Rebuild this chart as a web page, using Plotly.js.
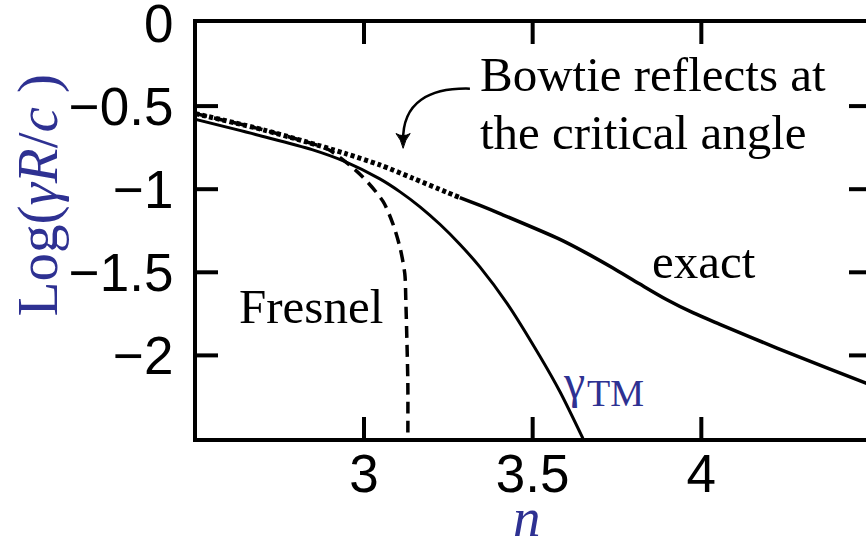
<!DOCTYPE html>
<html>
<head>
<meta charset="utf-8">
<script src="https://cdn.plot.ly/plotly-3.0.1.min.js"></script>
<style>
  html, body { margin: 0; padding: 0; background: #fff; overflow: hidden; }
  #chart { width: 872px; height: 538px; }
</style>
</head>
<body>
<div id="chart"></div>
<script>
/* Log(γR/c) vs refractive index n — exact, γ_TM and Fresnel estimates */

const BLUE = '#2e3192';

// exact result (dotted left part, near-solid past the critical angle)
const exactX = [2.50, 2.698, 2.825, 2.944, 3.047, 3.145, 3.246, 3.284, 3.344, 3.403, 3.581, 3.661, 3.738, 3.818, 3.898, 3.975, 4.055, 4.224, 4.372, 4.50];
const exactY = [-0.545, -0.641, -0.713, -0.785, -0.854, -0.934, -1.019, -1.050, -1.098, -1.147, -1.302, -1.386, -1.474, -1.571, -1.665, -1.743, -1.813, -1.956, -2.075, -2.176];
const exactSplit = 7; // index where the dots merge into a line

// γ_TM estimate
const tmX = [2.50, 2.698, 2.846, 2.944, 3.047, 3.107, 3.166, 3.225, 3.284, 3.344, 3.424, 3.521, 3.581, 3.649];
const tmY = [-0.58, -0.681, -0.762, -0.834, -0.938, -1.016, -1.106, -1.211, -1.331, -1.469, -1.687, -2.004, -2.219, -2.50];

// Fresnel estimate
const fresX = [2.50, 2.698, 2.825, 2.893, 2.988, 3.056, 3.086, 3.107, 3.121, 3.124, 3.127, 3.130, 3.130];
const fresY = [-0.545, -0.641, -0.713, -0.760, -0.910, -1.072, -1.210, -1.353, -1.509, -1.671, -1.892, -2.168, -2.50];

const xTicks = [3, 3.5, 4];
const xTickText = ['3', '3.5', '4'];
const yTicks = [0, -0.5, -1, -1.5, -2];
const yTickText = ['0', '\u22120.5', '\u22121', '\u22121.5', '\u22122'];

const xRange = [2.505, 4.5];
const yRange = [-2.497, 0];

const SERIF = 'Liberation Serif, DejaVu Serif, serif';
const SANS = 'Liberation Sans, Arial, sans-serif';

const W = 872, H = 538;
const M = { l: 197, r: 2, t: 23, b: 100 };
const pxX = (W - M.l - M.r) / (xRange[1] - xRange[0]);
const pxY = (H - M.t - M.b) / (yRange[1] - yRange[0]);

// inside tick marks on all four sides, built from the tick values
function tickTrace() {
  const x = [], y = [];
  const lx = 21 / pxX, ly = 21 / pxY;
  xTicks.forEach(v => {
    x.push(v, v, null, v, v, null);
    y.push(yRange[0], yRange[0] + ly, null, yRange[1], yRange[1] - ly, null);
  });
  yTicks.filter(v => v > yRange[0] && v < yRange[1]).forEach(v => {
    x.push(xRange[0], xRange[0] + lx, null, xRange[1], xRange[1] - lx, null);
    y.push(v, v, null, v, v, null);
  });
  return { x, y, mode: 'lines', hoverinfo: 'skip', connectgaps: false, line: { color: '#000', width: 4 } };
}

const traces = [
  {
    x: fresX, y: fresY, mode: 'lines', name: 'Fresnel',
    line: { color: '#000', width: 3.5, dash: '12px,7px', shape: 'spline', smoothing: 0.8 }
  },
  {
    x: tmX, y: tmY, mode: 'lines', name: 'γTM',
    line: { color: '#000', width: 3, shape: 'spline', smoothing: 0.8 }
  },
  {
    x: exactX.slice(0, exactSplit + 1), y: exactY.slice(0, exactSplit + 1), mode: 'lines', name: 'exact',
    line: { color: '#000', width: 5, dash: '4px,3px', shape: 'spline', smoothing: 0.8 }
  },
  {
    x: exactX.slice(exactSplit), y: exactY.slice(exactSplit), mode: 'lines', name: 'exact',
    line: { color: '#000', width: 3.5, shape: 'spline', smoothing: 0.8 }
  },
  tickTrace()
];

const axisBase = {
  showline: true, linewidth: 4, linecolor: '#000', mirror: true,
  ticks: '', showgrid: false, zeroline: false,
  ticklabeloverflow: 'allow',
  tickfont: { family: SANS, size: 53, color: '#000' }
};

const txt = (x, y, text, extra) => Object.assign({
  x, y, xref: 'x', yref: 'y', text, showarrow: false,
  xanchor: 'left', yanchor: 'middle',
  font: { family: SERIF, size: 49, color: '#000' }
}, extra || {});

const layout = {
  width: W, height: H,
  margin: M,
  paper_bgcolor: '#fff', plot_bgcolor: '#fff',
  showlegend: false,
  xaxis: Object.assign({}, axisBase, { range: xRange, tickvals: xTicks, ticktext: xTickText, ticklabelstandoff: -14 }),
  yaxis: Object.assign({}, axisBase, { range: yRange, tickvals: yTicks, ticktext: yTickText, ticklabelstandoff: 9 }),
  annotations: [
    txt(3.338, -0.311, 'Bowtie reflects at'),
    txt(3.338, -0.659, 'the critical angle'),
    txt(2.624, -1.707, 'Fresnel'),
    txt(3.847, -1.437, 'exact'),
    // γ with its "TM" subscript set as a separate, lower label
    txt(3.585, -2.16, 'γ', { font: { family: SERIF, size: 48, color: BLUE } }),
    txt(3.655, -2.226, 'TM', { font: { family: SERIF, size: 38, color: BLUE } }),
    {
      xref: 'paper', yref: 'paper', x: -0.2366, y: 0.584, textangle: -90,
      xanchor: 'center', yanchor: 'middle',
      text: 'Log(<i>γR</i>/<i>c</i> )', showarrow: false,
      font: { family: SERIF, size: 57, color: BLUE }
    },
    {
      xref: 'paper', yref: 'paper', x: 0.490, y: -0.192,
      xanchor: 'center', yanchor: 'middle',
      text: '<i>n</i>', showarrow: false,
      font: { family: SERIF, size: 55, color: BLUE }
    }
  ],
  shapes: [
    // curved pointer from the label down to the curve
    {
      type: 'path', xref: 'x', yref: 'y',
      path: 'M 3.314,-0.395 C 3.196,-0.389 3.113,-0.473 3.116,-0.713',
      line: { color: '#000', width: 2.5 }
    },
    {
      type: 'path', xref: 'x', yref: 'y',
      path: 'M 3.095,-0.665 Q 3.110,-0.700 3.116,-0.754 Q 3.122,-0.700 3.137,-0.665 Q 3.116,-0.690 3.095,-0.665 Z',
      line: { color: '#000', width: 1 }, fillcolor: '#000'
    }
  ]
};

Plotly.newPlot('chart', traces, layout, { displayModeBar: false, staticPlot: true });
</script>
</body>
</html>
